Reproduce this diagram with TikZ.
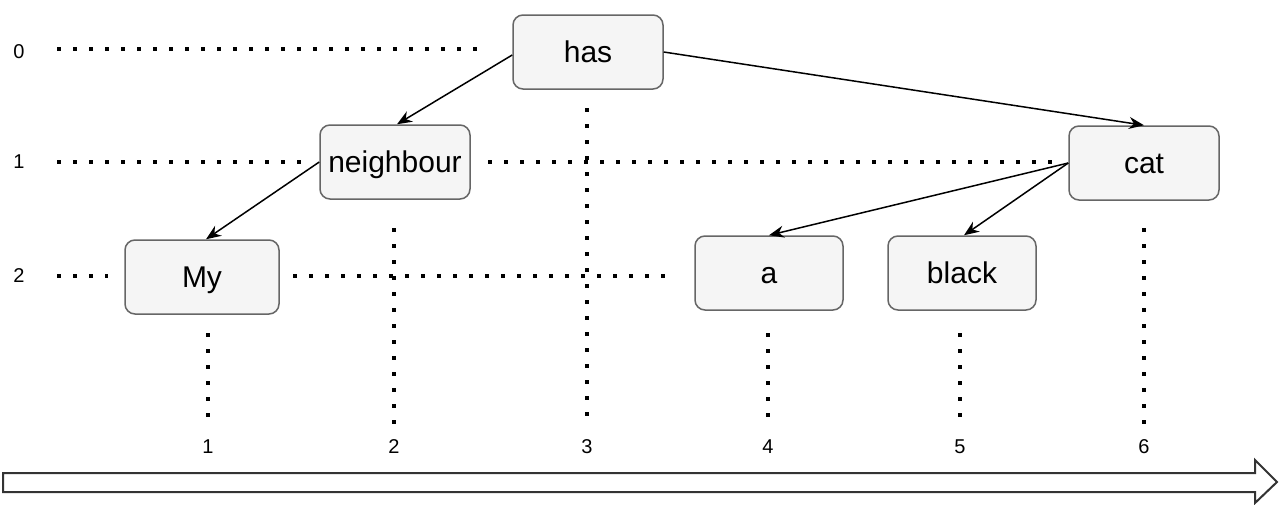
\documentclass[tikz,border=0pt]{standalone}
\usepackage{fontspec}
\setmainfont{Liberation Sans}
\usetikzlibrary{arrows.meta}
\definecolor{boxfill}{HTML}{F5F5F5}
\definecolor{boxline}{HTML}{666666}
\begin{document}
\begin{tikzpicture}[x=1pt,y=-1pt,
  word/.style={draw=boxline, fill=boxfill, line width=1.5pt, rounded corners=10pt,
    minimum width=150pt, minimum height=74pt, inner sep=0pt,
    text height=21.5pt, text depth=0pt,
    font=\fontsize{30}{36}\selectfont},
  lbl/.style={font=\fontsize{20}{24}\selectfont, inner sep=0pt},
  dots/.style={line width=3.5pt, dash pattern=on 3.5pt off 12.5pt},
  edge/.style={line width=1.5pt, -{Stealth[length=15pt,width=12pt]}}]
\useasboundingbox (0,0) rectangle (1280,504);
% nodes
\node[word] (has) at (588,52) {has};
\node[word] (neighbour) at (395,162) {neighbour};
\node[word] (cat) at (1144,163) {cat};
\node[word, minimum width=154pt] (My) at (202,277) {My};
\node[word, minimum width=148pt] (a) at (769,273) {a};
\node[word, minimum width=148pt] (black) at (962,273) {black};
% level labels
\node[lbl] (l0) at (19,52) {0};
\node[lbl] (l1) at (19,162) {1};
\node[lbl] (l2) at (19,276) {2};
% column labels
\node[lbl] (c1) at (208,447) {1};
\node[lbl] (c2) at (394,447) {2};
\node[lbl] (c3) at (587,447) {3};
\node[lbl] (c4) at (768,447) {4};
\node[lbl] (c5) at (960,447) {5};
\node[lbl] (c6) at (1144,447) {6};
% horizontal dotted guides
\draw[dots] (57,49) -- (484,49);
\draw[dots] (57,162) -- (304,162);
\draw[dots] (488,162) -- (1060,162);
\draw[dots] (57,276) -- (108,276);
\draw[dots] (293,276) -- (676,276);
% vertical dotted guides
\draw[dots] (208,333) -- (208,428);
\draw[dots] (394,228) -- (394,428);
\draw[dots] (587,108) -- (587,428);
\draw[dots] (768,333) -- (768,428);
\draw[dots] (960,333) -- (960,428);
\draw[dots] (1144,228) -- (1144,428);
% edges
\draw[edge] ([yshift=-3pt]has.west) -- ([xshift=2pt]neighbour.north);
\draw[edge] (has.east) -- (cat.north);
\draw[edge] (neighbour.west) -- ([xshift=4pt]My.north);
\draw[edge] (cat.west) -- (a.north);
\draw[edge] (cat.west) -- ([xshift=2pt]black.north);
% timeline arrow
\draw[line width=2pt, draw=black!80, fill=white]
  (3,473) -- (1255,473) -- (1255,460) -- (1277,482) -- (1255,503) -- (1255,492) -- (3,492) -- cycle;
\end{tikzpicture}
\end{document}
